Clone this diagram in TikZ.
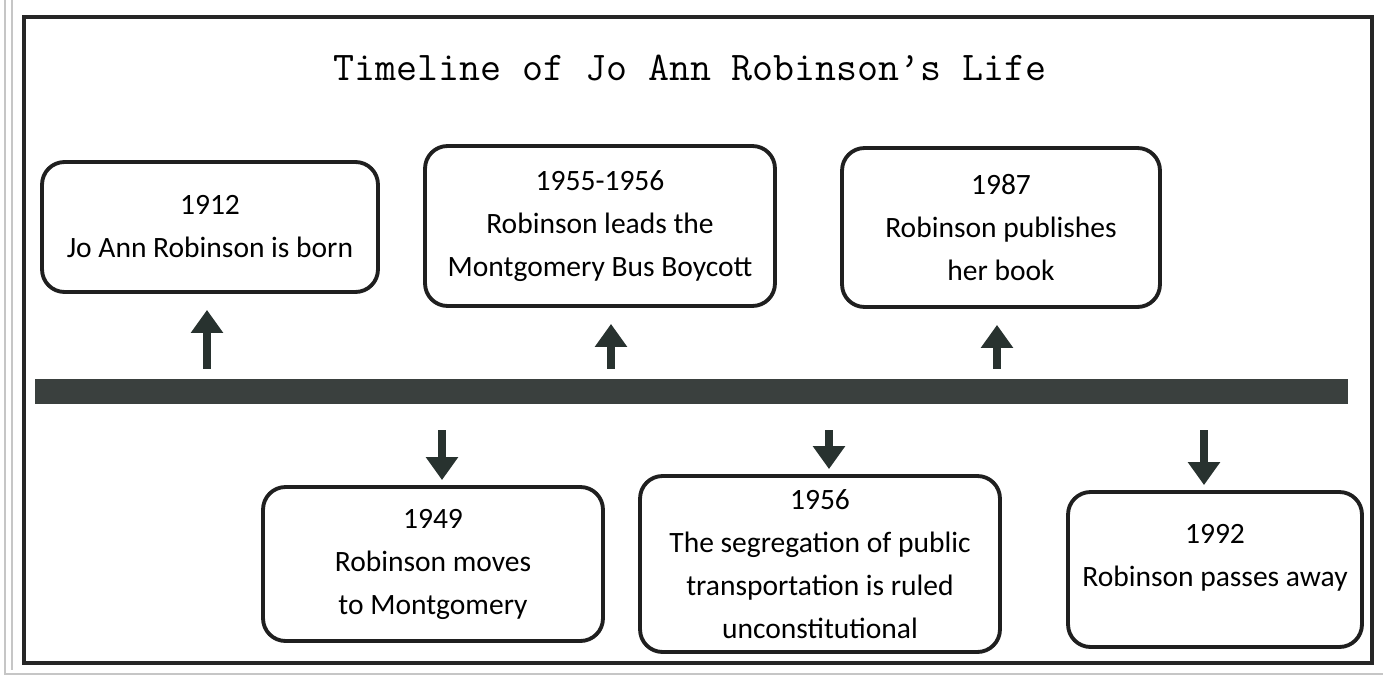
\documentclass[tikz,border=0pt]{standalone}
\usepackage{fontspec}
\setmainfont{Carlito}
\usetikzlibrary{arrows.meta}
\definecolor{bargray}{RGB}{58,64,62}
\definecolor{arrowgray}{RGB}{40,50,47}
\tikzset{
  event/.style={draw=black!88, line width=2.2pt, rounded corners=0.45cm, align=center,
    inner sep=0pt, font=\fontsize{16.8}{24.5}\selectfont},
  uparrow/.style={arrowgray, line width=4.5pt, -{Triangle[width=0.62cm,length=0.46cm]},
    shorten <=0.2cm, shorten >=0.32cm},
  downarrow/.style={arrowgray, line width=4.5pt, -{Triangle[width=0.62cm,length=0.46cm]},
    shorten <=0.52cm, shorten >=0.1cm}
}

\begin{document}
\begin{tikzpicture}[x=0.02cm, y=-0.02cm]
\useasboundingbox (0,0) rectangle (1383,679);
% scanned page edges
\draw[gray!45, line width=0.8pt] (5,0) -- (5,674) -- (1383,674);
\draw[gray!45, line width=0.6pt] (12,0) -- (12,670);
% frame
\draw[black!85, line width=2.8pt] (24,17) rectangle (1372,663);

\node[font=\ttfamily\fontsize{23.2}{27}\selectfont] (title) at (690,68) {Timeline of Jo Ann Robinson’s Life};

\node[fill=bargray, minimum width=26.26cm, minimum height=0.5cm, inner sep=0pt] (bar) at (691.5,391.5) {};

% above the line
\node[event, minimum width=6.72cm, minimum height=2.6cm] (b1) at (210,227) {1912\\Jo Ann Robinson is born};
\node[event, minimum width=7.0cm, minimum height=3.2cm] (b2) at (600,226) {1955-1956\\Robinson leads the\\Montgomery Bus Boycott};
\node[event, minimum width=6.36cm, minimum height=3.18cm] (b3) at (1001,227.5) {1987\\Robinson publishes\\her book};
% below the line
\node[event, minimum width=6.8cm, minimum height=3.08cm] (b4) at (433,564) {1949\\Robinson moves\\to Montgomery};
\node[event, minimum width=7.2cm, minimum height=3.52cm] (b5) at (820,564) {1956\\The segregation of public\\transportation is ruled\\unconstitutional};
\node[event, minimum width=5.88cm, minimum height=3.1cm] (b6) at (1215,569.5) {1992\\Robinson passes away\\[-8pt]\mbox{}};

\foreach \ax/\bx in {207/b1, 611/b2, 997/b3}
  \draw[uparrow] (\ax,0 |- bar.north) -- (\ax,0 |- \bx.south);
\foreach \ax/\bx in {442/b4, 829/b5, 1204/b6}
  \draw[downarrow] (\ax,0 |- bar.south) -- (\ax,0 |- \bx.north);
\end{tikzpicture}
\end{document}
